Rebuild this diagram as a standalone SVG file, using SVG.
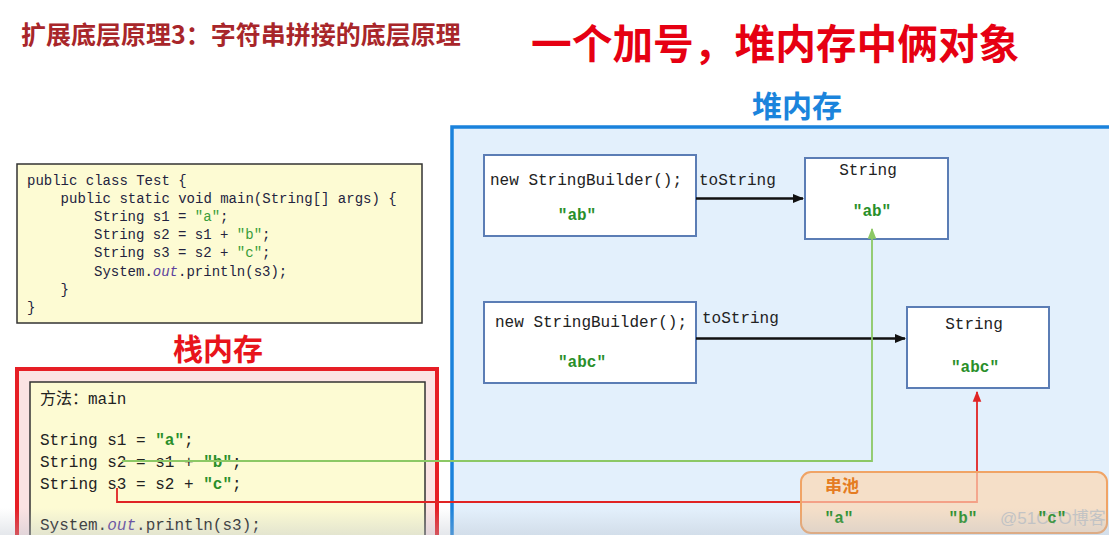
<svg xmlns="http://www.w3.org/2000/svg" width="1109" height="543" viewBox="0 0 1109 543">
  <defs>
    <style>
      .cjk { font-family: "Noto Sans CJK SC", "Noto Sans", sans-serif; font-weight: bold; }
      .code { font-family: "Liberation Mono", "DejaVu Sans Mono", "Noto Sans CJK SC", monospace; font-size: 14px; fill: #23233f; }
      .mono { font-family: "Liberation Mono", "DejaVu Sans Mono", "Noto Sans CJK SC", monospace; font-size: 16px; fill: #222; }
      .str { fill: #3a9d3a; }
      .gstr { font-family: "Liberation Mono", "DejaVu Sans Mono", monospace; font-size: 16px; font-weight: bold; fill: #2a8f2a; }
      .out { font-style: italic; fill: #5b3f9c; }
      .obj { fill: #ffffff; stroke: #5b7db5; stroke-width: 2; }
      .codebox { fill: #fdfbd3; stroke: #333; stroke-width: 1.5; }
    </style>
    <marker id="ah" viewBox="0 0 10 10" refX="9" refY="5" markerWidth="4.5" markerHeight="4.5" orient="auto" markerUnits="strokeWidth">
      <path d="M0,1 L10,5 L0,9 z" fill="#111"/>
    </marker>
    <marker id="ahg" viewBox="0 0 10 10" refX="9" refY="5" markerWidth="6" markerHeight="6" orient="auto" markerUnits="strokeWidth">
      <path d="M0,1 L10,5 L0,9 z" fill="#8cc865"/>
    </marker>
    <marker id="ahr" viewBox="0 0 10 10" refX="9" refY="5" markerWidth="6" markerHeight="6" orient="auto" markerUnits="strokeWidth">
      <path d="M0,1 L10,5 L0,9 z" fill="#e02424"/>
    </marker>
    <linearGradient id="shade" x1="0" y1="0" x2="0" y2="1">
      <stop offset="0" stop-color="#b4bcc8" stop-opacity="0"/>
      <stop offset="1" stop-color="#b4bcc8" stop-opacity="0.35"/>
    </linearGradient>
  </defs>

  <rect x="0" y="0" width="1109" height="543" fill="#ffffff"/>

  <!-- titles -->
  <g id="title">
    <text class="cjk" x="21" y="44" font-size="25" fill="#a8262a">扩展底层原理3：字符串拼接的底层原理</text>
  </g>
  <g id="headline">
    <text class="cjk" x="531" y="59" font-size="40.7" fill="#e60012">一个加号，堆内存中俩对象</text>
  </g>
  <g id="heap-label">
    <text class="cjk" x="752" y="117" font-size="30" fill="#1b84dc">堆内存</text>
  </g>

  <!-- heap area -->
  <g id="heap">
    <rect x="452" y="127" width="680" height="440" fill="#e3f0fc" stroke="#1a82dc" stroke-width="3.5"/>
  </g>

  <!-- source code box -->
  <g id="source-code">
    <rect class="codebox" x="17" y="164" width="405" height="159"/>
    <text class="code" x="27" y="185">public class Test {</text>
    <text class="code" x="60.6" y="203">public static void main(String[] args) {</text>
    <text class="code" x="94" y="221">String s1 = <tspan class="str">"a"</tspan>;</text>
    <text class="code" x="94" y="239">String s2 = s1 + <tspan class="str">"b"</tspan>;</text>
    <text class="code" x="94" y="257">String s3 = s2 + <tspan class="str">"c"</tspan>;</text>
    <text class="code" x="94" y="276">System.<tspan class="out">out</tspan>.println(s3);</text>
    <text class="code" x="60.6" y="294">}</text>
    <text class="code" x="27" y="312">}</text>
  </g>

  <!-- stack -->
  <g id="stack-label">
    <text class="cjk" x="173" y="360" font-size="30" fill="#e8141b">栈内存</text>
  </g>
  <g id="stack">
    <rect x="17" y="369" width="420" height="200" fill="#fbe3e3" stroke="#e61e25" stroke-width="4"/>
    <rect class="codebox" x="30" y="382" width="395" height="190"/>
    <text class="mono" x="40" y="404">方法：main</text>
    <text class="mono" x="40" y="445">String s1 = <tspan class="gstr">"a"</tspan>;</text>
    <text class="mono" x="40" y="467">String s2 = s1 + <tspan class="gstr">"b"</tspan>;</text>
    <text class="mono" x="40" y="489">String s3 = s2 + <tspan class="gstr">"c"</tspan>;</text>
    <text class="mono" x="40" y="530">System.<tspan class="out">out</tspan>.println(s3);</text>
  </g>

  <!-- heap objects -->
  <g id="sb1">
    <rect class="obj" x="484" y="155" width="212" height="81"/>
    <text class="mono" x="490" y="185">new StringBuilder();</text>
    <text class="gstr" x="577" y="220" text-anchor="middle">"ab"</text>
  </g>
  <g id="string1">
    <rect class="obj" x="805" y="158" width="143" height="81"/>
    <text class="mono" x="868" y="175" text-anchor="middle">String</text>
    <text class="gstr" x="872" y="216" text-anchor="middle">"ab"</text>
  </g>
  <g id="sb2">
    <rect class="obj" x="484" y="302" width="212" height="81"/>
    <text class="mono" x="495" y="327">new StringBuilder();</text>
    <text class="gstr" x="582" y="367" text-anchor="middle">"abc"</text>
  </g>
  <g id="string2">
    <rect class="obj" x="907" y="307" width="142" height="81"/>
    <text class="mono" x="974" y="329" text-anchor="middle">String</text>
    <text class="gstr" x="975" y="372" text-anchor="middle">"abc"</text>
  </g>

  <!-- connectors -->
  <g id="connectors" fill="none">
    <path d="M696,198.5 H803" stroke="#111" stroke-width="2.5" marker-end="url(#ah)"/>
    <text class="mono" x="699" y="185">toString</text>
    <path d="M696,338.5 H905" stroke="#111" stroke-width="2.5" marker-end="url(#ah)"/>
    <text class="mono" x="702" y="323">toString</text>
    <path d="M122,461 H872 V229" stroke="#8cc865" stroke-width="1.8" marker-end="url(#ahg)"/>
    <path d="M117,488 V502 H977 V392" stroke="#e02424" stroke-width="1.8" marker-end="url(#ahr)"/>
  </g>

  <!-- string pool -->
  <g id="string-pool">
    <rect x="801" y="472" width="306" height="61" rx="10" ry="10" fill="#fcd7b2" fill-opacity="0.7" stroke="#f0a466" stroke-width="2"/>
    <text class="cjk" x="825" y="492" font-size="17" fill="#e57c22">串池</text>
    <text fill="#c4c4c4" x="1000" y="524" font-family="Liberation Sans, Noto Sans CJK SC, sans-serif" font-size="17">@51CTO博客</text>
    <text class="gstr" x="839" y="523" text-anchor="middle" fill="#1f8a1f">"a"</text>
    <text class="gstr" x="963" y="523" text-anchor="middle" fill="#1f8a1f">"b"</text>
    <text class="gstr" x="1052" y="523" text-anchor="middle" fill="#1f8a1f">"c"</text>
  </g>

  <!-- bottom overlay -->
  <rect x="0" y="508" width="1109" height="27" fill="url(#shade)"/>
  <rect x="0" y="535" width="1109" height="8" fill="#ffffff"/>
</svg>
